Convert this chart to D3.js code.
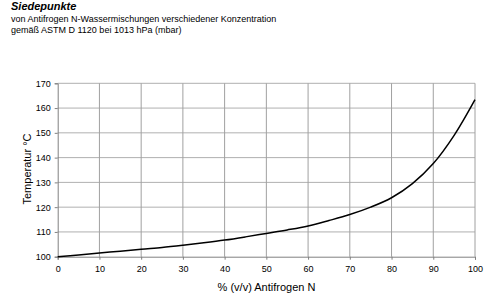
<!DOCTYPE html>
<html>
<head>
<meta charset="utf-8">
<script src="https://cdn.jsdelivr.net/npm/d3@7"></script>
<style>
  body { margin: 0; background: #fff; }
  svg { font-family: "Liberation Sans", Arial, sans-serif; }
</style>
</head>
<body>
<script>
// concentration in % (v/v) and boiling point in degC
var konz = [0, 5, 10, 15, 20, 25, 30, 35, 40, 45, 50, 55, 60, 65, 70, 75, 80, 85, 90, 95, 100];
var siedepunkt = [100, 100.7, 101.5, 102.2, 103, 103.7, 104.6, 105.6, 106.7, 108, 109.4,
                  110.8, 112.4, 114.6, 117, 120, 123.8, 129.5, 137.6, 149, 163.4];
var xTicks = [0, 10, 20, 30, 40, 50, 60, 70, 80, 90, 100];
var yTicks = [100, 110, 120, 130, 140, 150, 160, 170];

var svg = d3.select("body").append("svg")
            .attr("width", 500)
            .attr("height", 301);

// titles
svg.append("text").attr("x", 11).attr("y", 10)
   .style("font-size", "11px").style("font-weight", "bold").style("font-style", "italic")
   .text("Siedepunkte");
svg.append("text").attr("x", 11).attr("y", 21.5)
   .style("font-size", "9px")
   .text("von Antifrogen N-Wassermischungen verschiedener Konzentration");
svg.append("text").attr("x", 11).attr("y", 32.5)
   .style("font-size", "9px")
   .text("gemäß  ASTM D 1120 bei 1013 hPa (mbar)");

var x = d3.scaleLinear().domain([0, 100]).range([57.7, 475]);
var y = d3.scaleLinear().domain([100, 170]).range([256.7, 83.3]);

// grid
svg.append("g").selectAll("line").data(yTicks.slice(1)).enter()
   .append("line")
   .attr("x1", x(0)).attr("x2", x(100))
   .attr("y1", function(d) { return y(d); })
   .attr("y2", function(d) { return y(d); })
   .attr("stroke", "#b0b0b0").attr("stroke-width", 1);
svg.append("g").selectAll("line").data(xTicks.slice(1)).enter()
   .append("line")
   .attr("y1", y(100)).attr("y2", y(170))
   .attr("x1", function(d) { return x(d); })
   .attr("x2", function(d) { return x(d); })
   .attr("stroke", "#a0a0a0").attr("stroke-width", 1);

// axes
var xAxis = svg.append("g")
   .attr("transform", "translate(0," + y(100) + ")")
   .call(d3.axisBottom(x).tickValues(xTicks).tickSize(3).tickPadding(6));
var yAxis = svg.append("g")
   .attr("transform", "translate(" + x(0) + ",0)")
   .call(d3.axisLeft(y).tickValues(yTicks).tickSize(3).tickPadding(4));
[xAxis, yAxis].forEach(function(a) {
  a.selectAll("path, line").attr("stroke", "#808080");
  a.selectAll("text").style("font-size", "9px").attr("fill", "#000")
   .style("font-family", "Liberation Sans, Arial, sans-serif");
});

// axis titles
svg.append("text").attr("x", 266.5).attr("y", 291)
   .attr("text-anchor", "middle").style("font-size", "11px")
   .text("% (v/v) Antifrogen N");
svg.append("text")
   .attr("transform", "translate(31,169) rotate(-90)")
   .attr("text-anchor", "middle").style("font-size", "11px")
   .text("Temperatur °C");

// curve
var line = d3.line()
   .x(function(d, i) { return x(konz[i]); })
   .y(function(d) { return y(d); })
   .curve(d3.curveCatmullRom);
svg.append("path").datum(siedepunkt)
   .attr("d", line)
   .attr("fill", "none")
   .attr("stroke", "#000")
   .attr("stroke-width", 1.5);
</script>
</body>
</html>
